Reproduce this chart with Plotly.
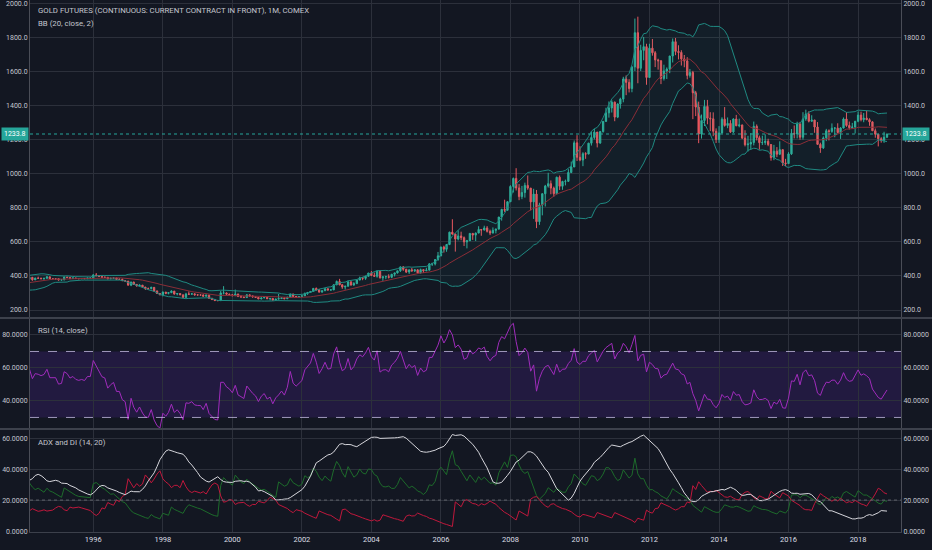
import numpy as np
import pandas as pd
import plotly.graph_objects as go
from plotly.subplots import make_subplots

# monthly candles, gold futures (front contract), Jan 1991 .. Nov 2018, one line per year
opens = [
    386, 366, 363, 356, 357, 361, 367, 362, 347, 354, 358, 366,
    353, 354, 353, 341, 337, 337, 343, 357, 340, 349, 339, 334,
    333, 330, 328, 338, 356, 377, 379, 402, 372, 356, 370, 372,
    392, 379, 381, 392, 377, 387, 386, 384, 386, 395, 384, 384,
    384, 376, 377, 393, 391, 386, 388, 385, 384, 385, 384, 388,
    388, 406, 402, 397, 393, 392, 383, 386, 388, 380, 380, 372,
    370, 346, 364, 350, 341, 346, 335, 327, 326, 333, 312, 297,
    290, 305, 298, 302, 311, 294, 297, 289, 274, 294, 293, 295,
    289, 288, 288, 281, 287, 269, 262, 256, 255, 300, 300, 293,
    290, 284, 294, 279, 276, 273, 289, 283, 278, 274, 265, 271,
    274, 266, 268, 258, 264, 267, 271, 266, 274, 294, 280, 276,
    279, 283, 298, 303, 309, 327, 318, 305, 313, 325, 317, 318,
    348, 368, 348, 335, 340, 365, 347, 355, 376, 389, 386, 398,
    417, 403, 398, 428, 389, 395, 396, 392, 410, 418, 430, 453,
    439, 423, 436, 430, 436, 418, 437, 430, 434, 471, 471, 496,
    518, 570, 557, 585, 657, 646, 617, 635, 625, 600, 607, 650,
    640, 652, 673, 670, 682, 662, 652, 668, 675, 746, 791, 786,
    836, 926, 973, 917, 866, 890, 932, 916, 835, 881, 719, 817,
    883, 928, 942, 916, 883, 980, 927, 955, 956, 1008, 1040, 1182,
    1097, 1081, 1118, 1116, 1180, 1213, 1245, 1181, 1248, 1308, 1358, 1387,
    1421, 1333, 1410, 1439, 1557, 1537, 1501, 1628, 1829, 1620, 1725, 1747,
    1566, 1738, 1711, 1669, 1664, 1560, 1604, 1615, 1692, 1776, 1719, 1713,
    1675, 1663, 1578, 1595, 1476, 1392, 1234, 1313, 1396, 1327, 1323, 1250,
    1202, 1240, 1321, 1284, 1296, 1246, 1322, 1282, 1287, 1210, 1171, 1175,
    1184, 1279, 1212, 1183, 1184, 1191, 1172, 1095, 1133, 1115, 1142, 1064,
    1060, 1117, 1238, 1234, 1292, 1215, 1322, 1351, 1309, 1316, 1275, 1173,
    1152, 1211, 1253, 1249, 1268, 1268, 1242, 1269, 1322, 1284, 1271, 1275,
    1309, 1345, 1318, 1327, 1318, 1305, 1253, 1233, 1206, 1196, 1215,
]
highs = [
    403, 372, 368, 362, 364, 372, 370, 363, 357, 362, 370, 368,
    362, 359, 354, 344, 341, 346, 363, 358, 352, 350, 341, 338,
    334, 333, 339, 358, 379, 385, 414, 407, 373, 373, 378, 394,
    396, 385, 393, 393, 390, 396, 390, 389, 398, 396, 387, 386,
    386, 380, 397, 396, 392, 391, 390, 386, 387, 388, 389, 390,
    410, 417, 403, 398, 395, 392, 390, 392, 389, 386, 385, 373,
    370, 366, 366, 352, 350, 346, 335, 331, 337, 334, 314, 299,
    309, 306, 303, 316, 311, 299, 298, 290, 301, 309, 300, 297,
    292, 291, 292, 291, 290, 270, 264, 259, 312, 340, 303, 296,
    291, 320, 295, 288, 279, 293, 291, 284, 279, 276, 273, 276,
    273, 269, 269, 265, 294, 276, 273, 279, 295, 295, 280, 280,
    285, 302, 305, 311, 329, 332, 323, 316, 328, 326, 323, 350,
    373, 383, 352, 341, 373, 371, 364, 377, 396, 394, 401, 418,
    429, 420, 432, 430, 396, 401, 410, 412, 418, 431, 456, 458,
    442, 437, 447, 437, 438, 443, 438, 448, 474, 478, 498, 541,
    572, 578, 585, 660, 733, 648, 668, 660, 632, 612, 650, 650,
    655, 692, 675, 695, 693, 672, 685, 678, 747, 794, 848, 838,
    933, 978, 1033, 940, 929, 948, 990, 917, 912, 905, 830, 885,
    935, 1006, 961, 925, 983, 990, 959, 966, 1027, 1072, 1196, 1227,
    1162, 1127, 1127, 1182, 1249, 1265, 1212, 1252, 1310, 1388, 1425, 1432,
    1424, 1414, 1447, 1570, 1578, 1556, 1632, 1912, 1923, 1758, 1804, 1764,
    1764, 1792, 1721, 1676, 1667, 1641, 1625, 1693, 1795, 1798, 1755, 1726,
    1698, 1685, 1616, 1605, 1487, 1424, 1348, 1434, 1434, 1362, 1361, 1267,
    1280, 1332, 1392, 1331, 1315, 1326, 1346, 1324, 1289, 1256, 1223, 1239,
    1307, 1290, 1224, 1224, 1232, 1206, 1175, 1170, 1157, 1191, 1142, 1088,
    1127, 1263, 1284, 1306, 1305, 1362, 1377, 1367, 1344, 1317, 1304, 1183,
    1220, 1264, 1261, 1296, 1275, 1297, 1274, 1331, 1362, 1307, 1299, 1310,
    1366, 1365, 1357, 1370, 1326, 1309, 1266, 1220, 1215, 1247, 1236,
]
lows = [
    357, 357, 350, 352, 352, 355, 356, 343, 344, 352, 356, 351,
    349, 349, 340, 335, 334, 336, 342, 339, 340, 337, 331, 330,
    327, 326, 328, 336, 355, 367, 378, 360, 345, 356, 366, 371,
    374, 375, 378, 372, 376, 382, 380, 377, 385, 382, 381, 377,
    373, 374, 375, 387, 381, 384, 382, 381, 381, 382, 382, 385,
    386, 398, 395, 388, 389, 381, 382, 385, 378, 378, 370, 367,
    344, 340, 347, 338, 340, 334, 318, 320, 321, 308, 295, 286,
    280, 293, 292, 299, 290, 286, 287, 272, 273, 288, 290, 285,
    285, 284, 279, 279, 267, 258, 252, 252, 254, 292, 288, 282,
    281, 282, 276, 273, 271, 271, 277, 272, 271, 264, 263, 269,
    264, 257, 256, 256, 262, 265, 265, 265, 271, 277, 272, 273,
    277, 282, 289, 300, 308, 314, 302, 302, 311, 314, 315, 318,
    346, 345, 324, 320, 337, 343, 342, 352, 375, 375, 377, 398,
    399, 395, 390, 385, 371, 381, 385, 387, 397, 414, 424, 430,
    417, 412, 425, 423, 415, 414, 418, 431, 433, 459, 462, 489,
    516, 537, 542, 581, 642, 543, 609, 610, 576, 562, 608, 612,
    605, 651, 636, 667, 655, 640, 650, 650, 677, 725, 776, 785,
    836, 890, 902, 845, 851, 860, 906, 785, 735, 681, 700, 756,
    808, 919, 880, 865, 879, 905, 906, 932, 952, 1004, 1040, 1075,
    1074, 1045, 1088, 1115, 1166, 1202, 1155, 1176, 1242, 1316, 1330, 1360,
    1309, 1327, 1383, 1420, 1462, 1478, 1479, 1604, 1532, 1604, 1667, 1523,
    1563, 1694, 1627, 1612, 1527, 1548, 1557, 1591, 1654, 1697, 1672, 1636,
    1626, 1555, 1565, 1321, 1339, 1180, 1207, 1281, 1291, 1251, 1221, 1181,
    1182, 1238, 1277, 1268, 1240, 1240, 1280, 1273, 1204, 1161, 1131, 1142,
    1167, 1196, 1142, 1169, 1170, 1162, 1077, 1080, 1098, 1110, 1046, 1046,
    1062, 1111, 1208, 1208, 1200, 1201, 1311, 1302, 1305, 1241, 1171, 1123,
    1146, 1192, 1196, 1241, 1215, 1237, 1205, 1266, 1276, 1260, 1265, 1237,
    1303, 1308, 1303, 1315, 1282, 1251, 1212, 1161, 1183, 1182, 1211,
]
closes = [
    366, 363, 356, 357, 361, 367, 362, 347, 354, 358, 366, 353,
    354, 353, 341, 337, 337, 343, 357, 340, 349, 339, 334, 333,
    330, 328, 338, 356, 377, 379, 402, 372, 356, 370, 372, 392,
    379, 381, 392, 377, 387, 386, 384, 386, 395, 384, 384, 384,
    376, 377, 393, 391, 386, 388, 385, 384, 385, 384, 388, 388,
    406, 402, 397, 393, 392, 383, 386, 388, 380, 380, 372, 370,
    346, 364, 350, 341, 346, 335, 327, 326, 333, 312, 297, 290,
    305, 298, 302, 311, 294, 297, 289, 274, 294, 293, 295, 289,
    288, 288, 281, 287, 269, 262, 256, 255, 300, 300, 293, 290,
    284, 294, 279, 276, 273, 289, 283, 278, 274, 265, 271, 274,
    266, 268, 258, 264, 267, 271, 266, 274, 294, 280, 276, 279,
    283, 298, 303, 309, 327, 318, 305, 313, 325, 317, 318, 348,
    368, 348, 335, 340, 365, 347, 355, 376, 389, 386, 398, 417,
    403, 398, 428, 389, 395, 396, 392, 410, 418, 430, 453, 439,
    423, 436, 430, 436, 418, 437, 430, 434, 471, 471, 496, 518,
    570, 557, 585, 657, 646, 617, 635, 625, 600, 607, 650, 640,
    652, 673, 670, 682, 662, 652, 668, 675, 746, 791, 786, 836,
    926, 973, 917, 866, 890, 932, 916, 835, 881, 719, 817, 883,
    928, 942, 916, 883, 980, 927, 955, 956, 1008, 1040, 1182, 1097,
    1081, 1118, 1116, 1180, 1213, 1245, 1181, 1248, 1308, 1358, 1387, 1421,
    1333, 1410, 1439, 1557, 1537, 1501, 1628, 1829, 1620, 1725, 1747, 1566,
    1738, 1711, 1669, 1664, 1560, 1604, 1615, 1692, 1776, 1719, 1713, 1675,
    1663, 1578, 1595, 1476, 1392, 1234, 1313, 1396, 1327, 1323, 1250, 1202,
    1240, 1321, 1284, 1296, 1246, 1322, 1282, 1287, 1210, 1171, 1175, 1184,
    1279, 1212, 1183, 1184, 1191, 1172, 1095, 1133, 1115, 1142, 1064, 1060,
    1117, 1238, 1234, 1292, 1215, 1322, 1351, 1309, 1316, 1275, 1173, 1152,
    1211, 1253, 1249, 1268, 1268, 1242, 1269, 1322, 1284, 1271, 1275, 1309,
    1345, 1318, 1327, 1318, 1305, 1253, 1233, 1206, 1196, 1215, 1233.8,
]

# indicator settings shown in the pane titles
BB_LEN, BB_MULT = 20, 2
RSI_LEN, RSI_UPPER, RSI_LOWER = 14, 70, 30
ADX_LEN, ADX_TH = 14, 20

BG = "#131722"
GRID = "#2c303b"
TXT = "#c3c6ce"
FONT = "Roboto, sans-serif"

dates = pd.date_range("1991-01-01", periods=len(closes), freq="MS")
df = pd.DataFrame({"open": opens, "high": highs, "low": lows, "close": closes}, index=dates)


def rma(s, n):
    s = np.asarray(s, dtype=float)
    out = np.full(len(s), np.nan)
    start = int(np.argmax(~np.isnan(s)))
    out[start + n - 1] = np.mean(s[start:start + n])
    for i in range(start + n, len(s)):
        out[i] = (out[i - 1] * (n - 1) + s[i]) / n
    return out


# bollinger bands
basis = df.close.rolling(BB_LEN).mean()
dev = df.close.rolling(BB_LEN).std(ddof=0) * BB_MULT
upper, lower = basis + dev, basis - dev

# rsi
chg = df.close.diff()
up = rma(chg.clip(lower=0), RSI_LEN)
dn = rma((-chg).clip(lower=0), RSI_LEN)
rsi = 100 - 100 / (1 + up / dn)

# adx and di (same recipe as the tradingview script)
h, l, c = df.high.values, df.low.values, df.close.values
ph, pl, pc = np.roll(h, 1), np.roll(l, 1), np.roll(c, 1)
tr = np.maximum(np.maximum(h - l, np.abs(h - pc)), np.abs(l - pc))
dmp = np.where((h - ph) > (pl - l), np.maximum(h - ph, 0), 0.0)
dmm = np.where((pl - l) > (h - ph), np.maximum(pl - l, 0), 0.0)
str_ = np.zeros(len(c)); sp = np.zeros(len(c)); sm = np.zeros(len(c))
for i in range(1, len(c)):
    str_[i] = str_[i - 1] - str_[i - 1] / ADX_LEN + tr[i]
    sp[i] = sp[i - 1] - sp[i - 1] / ADX_LEN + dmp[i]
    sm[i] = sm[i - 1] - sm[i - 1] / ADX_LEN + dmm[i]
di_p = np.full(len(c), np.nan); di_m = np.full(len(c), np.nan)
di_p[1:] = sp[1:] / str_[1:] * 100
di_m[1:] = sm[1:] / str_[1:] * 100
dx = pd.Series(np.abs(di_p - di_m) / (di_p + di_m) * 100, index=dates)
adx = dx.rolling(ADX_LEN).mean()

fig = make_subplots(rows=3, cols=1, shared_xaxes=True, vertical_spacing=0,
                    row_heights=[318, 111, 103],
                    specs=[[{"secondary_y": True}]] * 3)

# price pane
fig.add_trace(go.Candlestick(x=dates, open=df.open, high=df.high, low=df.low, close=df.close,
                             increasing=dict(line=dict(color="#2fae9a", width=1), fillcolor="#2fae9a"),
                             decreasing=dict(line=dict(color="#e9575f", width=1), fillcolor="#e9575f"),
                             whiskerwidth=0, showlegend=False, hoverinfo="skip"),
              row=1, col=1)
fig.add_trace(go.Scatter(x=dates, y=upper, mode="lines", line=dict(color="#1f8a82", width=1),
                         showlegend=False, hoverinfo="skip"), row=1, col=1, secondary_y=True)
fig.add_trace(go.Scatter(x=dates, y=lower, mode="lines", line=dict(color="#1f8a82", width=1),
                         fill="tonexty", fillcolor="rgba(38,166,154,0.06)",
                         showlegend=False, hoverinfo="skip"), row=1, col=1, secondary_y=True)
fig.add_trace(go.Scatter(x=dates, y=basis, mode="lines", line=dict(color="#8a2d37", width=1),
                         showlegend=False, hoverinfo="skip"), row=1, col=1, secondary_y=True)

# rsi pane
fig.add_trace(go.Scatter(x=dates, y=rsi, mode="lines", line=dict(color="#a02cbc", width=1),
                         showlegend=False, hoverinfo="skip"), row=2, col=1)
fig.add_trace(go.Scatter(x=dates, y=rsi, mode="lines", line=dict(color="rgba(0,0,0,0)", width=0),
                         showlegend=False, hoverinfo="skip"), row=2, col=1, secondary_y=True)
rsi_y = fig.data[-2].yaxis

# adx pane
fig.add_trace(go.Scatter(x=dates, y=di_p, mode="lines", line=dict(color="#1d6b2b", width=1),
                         showlegend=False, hoverinfo="skip"), row=3, col=1)
adx_y = fig.data[-1].yaxis
fig.add_trace(go.Scatter(x=dates, y=di_m, mode="lines", line=dict(color="#c0183c", width=1),
                         showlegend=False, hoverinfo="skip"), row=3, col=1, secondary_y=True)
fig.add_trace(go.Scatter(x=dates, y=adx, mode="lines", line=dict(color="#d6d6dc", width=1),
                         showlegend=False, hoverinfo="skip"), row=3, col=1, secondary_y=True)

# level lines and band
fig.add_shape(type="rect", xref="paper", x0=0, x1=1, yref=rsi_y, y0=RSI_LOWER, y1=RSI_UPPER,
              fillcolor="rgba(120,45,225,0.16)", line_width=0, layer="below")
for lvl in (RSI_UPPER, RSI_LOWER):
    fig.add_shape(type="line", xref="paper", x0=0, x1=1, yref=rsi_y, y0=lvl, y1=lvl,
                  line=dict(color="rgba(205,195,235,0.75)", width=1, dash="dash"))
fig.add_shape(type="line", xref="paper", x0=0, x1=1, yref=adx_y, y0=ADX_TH, y1=ADX_TH,
              line=dict(color="#5f626c", width=1, dash="dot"))

last = closes[-1]
fig.add_shape(type="line", xref="paper", x0=0, x1=1, yref="y", y0=last, y1=last,
              line=dict(color="#26a69a", width=1, dash="dot"))

fig.update_xaxes(domain=[0, 1], range=["1994-03-07", "2019-03-28"], rangeslider_visible=False,
                 showgrid=True, gridcolor=GRID, gridwidth=1, zeroline=False,
                 tick0="1996-01-01", dtick="M24", tickformat="%Y", ticks="",
                 tickfont=dict(size=7.5, color="#dcdee4", family=FONT),
                 showline=False)
fig.update_xaxes(showline=True, linecolor="#3c404b", linewidth=1, row=3, col=1)

yspec = [
    (1, [153, 2021], [200, 400, 600, 800, 1000, 1200, 1400, 1600, 1800, 2000], ".1f"),
    (2, [23, 90.3], [40, 60, 80], ".4f"),
    (3, [-0.6, 65.9], [0, 20, 40, 60], ".4f"),
]
for row, rng, tv, fmt in yspec:
    for sec in (False, True):
        fig.update_yaxes(range=rng, tickvals=tv, tickformat=fmt, ticks="",
                         showgrid=not sec, gridcolor=GRID, zeroline=False,
                         showline=True, linecolor="#4a4d57", linewidth=1,
                         tickfont=dict(size=7, color=TXT, family=FONT),
                         row=row, col=1, secondary_y=sec)

# pane separators
for yp in (1 - 318 / 532, 1 - 429 / 532):
    fig.add_shape(type="line", xref="paper", yref="paper", x0=-0.04, x1=1.04, y0=yp, y1=yp,
                  line=dict(color="#3d414c", width=2))

labels = [
    ("GOLD FUTURES (CONTINUOUS: CURRENT CONTRACT IN FRONT), 1M, COMEX", 10),
    (f"BB ({BB_LEN}, close, {BB_MULT})", 23),
    (f"RSI ({RSI_LEN}, close)", 330),
    (f"ADX and DI ({ADX_LEN}, {ADX_TH})", 442),
]
for txt, ypx in labels:
    fig.add_annotation(text=txt, xref="paper", yref="paper", x=6 / 871, y=1 - ypx / 532,
                       xanchor="left", yanchor="middle", showarrow=False,
                       font=dict(size=7.8, color=TXT, family=FONT))

for xp, anc, sh in ((1, "left", 1), (0, "right", -1)):
    fig.add_annotation(text=f"{last:.1f}", xref="paper", yref="y", x=xp, y=last,
                       xanchor=anc, yanchor="middle", xshift=sh, showarrow=False,
                       bgcolor="#26a69a", borderpad=2,
                       font=dict(size=7, color="#ffffff", family=FONT))

fig.update_layout(width=932, height=550, margin=dict(l=30, r=31, t=0, b=18),
                  paper_bgcolor=BG, plot_bgcolor=BG, showlegend=False,
                  font=dict(family=FONT, color=TXT))

fig.write_html("out.html", config={"displayModeBar": False},
               post_script="document.body.style.margin='0px';")
